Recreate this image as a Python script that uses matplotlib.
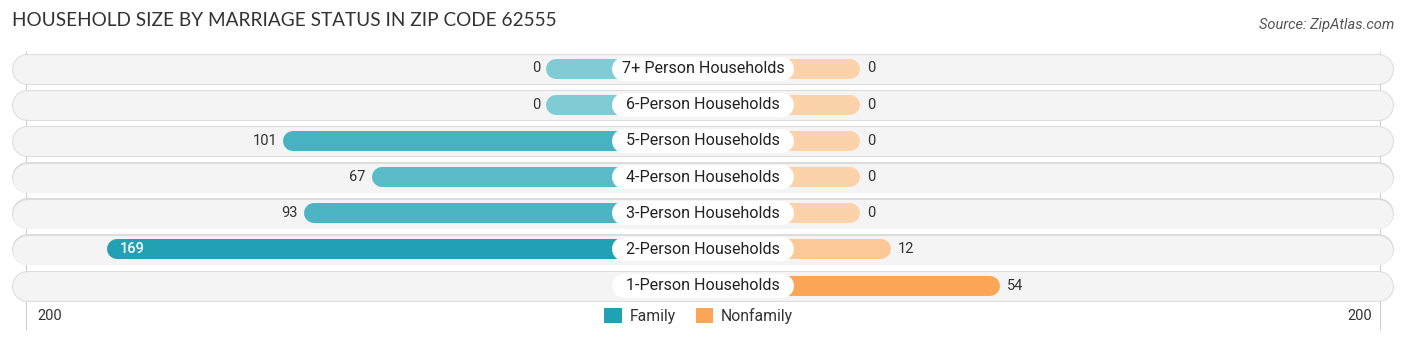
import numpy as np
import matplotlib.pyplot as plt
import matplotlib.colors as mcolors
from matplotlib.patches import Patch

# data (None = no family bar drawn)
categories = ["7+ Person Households", "6-Person Households", "5-Person Households",
              "4-Person Households", "3-Person Households", "2-Person Households",
              "1-Person Households"]
family = [0, 0, 101, 67, 93, 169, None]
nonfamily = [0, 0, 0, 0, 0, 12, 54]
axis_max = 200

W, H = 1406, 341
PX = 2.6            # pixels per unit
OFF = 157 / PX      # half width of the label area, in units
ROW0, ROWSTEP = 68.5, 36.17


def pt(px):
    return px * 0.72


fig = plt.figure(figsize=(W / 100, H / 100), dpi=100)
ax = fig.add_axes([0, 0, 1, 1])
half = W / 2 / PX
ax.set_xlim(-half, half)
ax.set_ylim((H - ROW0) / ROWSTEP, -ROW0 / ROWSTEP)
ax.axis("off")

fam_cmap = mcolors.LinearSegmentedColormap.from_list("f", ["#80ccd5", "#21a1b3"])
non_cmap = mcolors.LinearSegmentedColormap.from_list("n", ["#fcd2ab", "#fba656"])
fmax = max(v for v in family if v is not None)
nmax = max(nonfamily)

# grid lines at +-200
for s in (-1, 1):
    xg = s * (OFF + axis_max)
    ax.plot([xg, xg], [-0.45, 7.2], color="#d0d0d0", lw=0.8, zorder=0)

bg_l = (12 + 15) / PX - half
bg_r = (1393 - 15) / PX - half
r_bar = 10 / PX

for i, cat in enumerate(categories):
    # background pill with soft shadow
    ax.plot([bg_l, bg_r], [i, i], color="#dcdcdc",
            lw=pt(31), solid_capstyle="round", zorder=1)
    ax.plot([bg_l, bg_r], [i + 0.5 / ROWSTEP, i + 0.5 / ROWSTEP], color="#f4f4f4",
            lw=pt(29), solid_capstyle="round", zorder=2)

    fv = family[i]
    nv = nonfamily[i]
    if fv is not None:
        fc = fam_cmap(fv / fmax)
        xf = -(OFF + fv)
        ax.plot([xf + r_bar, 0], [i, i], color=fc, lw=pt(20),
                solid_capstyle="round", zorder=3)
        if fv > 150:
            ax.text(xf + 13 / PX, i, str(fv), ha="left", va="center", fontsize=10.5,
                    family="Roboto", color="white", fontweight="medium", zorder=5)
        else:
            ax.text(xf - 6 / PX, i, str(fv), ha="right", va="center", fontsize=10.5,
                    family="Roboto", color="#333333", zorder=5)

    nc = non_cmap(nv / nmax)
    xn = OFF + nv
    ax.plot([0, xn - r_bar], [i, i], color=nc, lw=pt(20),
            solid_capstyle="round", zorder=3)
    ax.text(xn + 7 / PX, i, str(nv), ha="left", va="center", fontsize=10.5,
            family="Roboto", color="#333333", zorder=5)

    # label pill
    lw_half = (91 - 12) / PX
    ax.plot([-lw_half, lw_half], [i, i], color="white", lw=pt(24),
            solid_capstyle="round", zorder=4)
    ax.text(0, i, cat, ha="center", va="center", fontsize=11.6,
            family="Roboto", color="#222222", zorder=5)

# axis labels
yl = (316 - ROW0) / ROWSTEP
ax.text(-(OFF + axis_max) + 11 / PX, yl, str(axis_max), ha="left", va="center",
        fontsize=10.5, family="Roboto", color="#333333")
ax.text(OFF + axis_max - 8 / PX, yl, str(axis_max), ha="right", va="center",
        fontsize=10.5, family="Roboto", color="#333333")

handles = [Patch(facecolor="#21a1b3", label="Family"),
           Patch(facecolor="#fba656", label="Nonfamily")]
fig.legend(handles=handles, loc="center", bbox_to_anchor=(0.497, 1 - 316 / H),
           ncol=2, frameon=False, prop={"family": "Roboto", "size": 11.3},
           handlelength=1.1, handleheight=1.1, handletextpad=0.5,
           columnspacing=1.3, labelcolor="#333333")

fig.text(12 / W, 1 - 21 / H, "HOUSEHOLD SIZE BY MARRIAGE STATUS IN ZIP CODE 62555",
         ha="left", va="center", fontsize=13.7, family="Lato", color="#333333")
fig.text(1394 / W, 1 - 25 / H, "Source: ZipAtlas.com", ha="right", va="center",
         fontsize=10.5, family="Roboto", style="italic", color="#555555")

fig.savefig("out.png", dpi=100)
